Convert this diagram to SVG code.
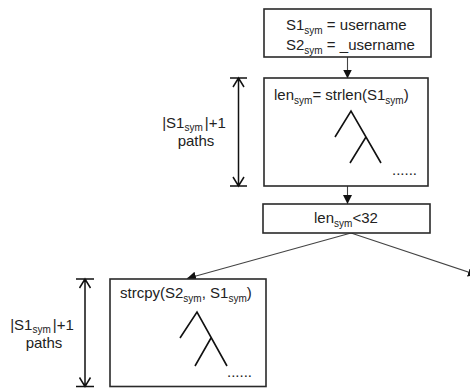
<svg xmlns="http://www.w3.org/2000/svg" width="470" height="388" viewBox="0 0 470 388">
<style>
text{font-family:"Liberation Sans",Arial,sans-serif;font-size:15px;fill:#222}
.sub{font-size:10px}
.box{fill:#fff;stroke:#2a2a2a;stroke-width:1.6}
.tree{fill:none;stroke:#111;stroke-width:1.6}
.conn{fill:none;stroke:#444;stroke-width:1.1}
.dim{fill:none;stroke:#111;stroke-width:1.5}
</style>
<defs>
<marker id="ah" viewBox="0 0 10 10" refX="10" refY="5" markerWidth="9" markerHeight="9" markerUnits="userSpaceOnUse" orient="auto">
<path d="M0,0 L10,5 L0,10 z" fill="#111"/>
</marker>
</defs>
<rect width="470" height="388" fill="#fff"/>
<g id="connectors">
<line class="conn" x1="347.5" y1="57" x2="347.5" y2="78.5" marker-end="url(#ah)"/>
<line class="conn" x1="347.5" y1="186" x2="347.5" y2="204" marker-end="url(#ah)"/>
<line class="conn" x1="351" y1="233" x2="187" y2="278.5" marker-end="url(#ah)"/>
<line class="conn" x1="351" y1="233" x2="477" y2="275" marker-end="url(#ah)"/>
</g>
<g id="init">
<rect class="box" x="264" y="9" width="167" height="48"/>
<text x="286" y="30">S1<tspan class="sub" dy="4">sym</tspan><tspan dy="-4"> = username</tspan></text>
<text x="286" y="50">S2<tspan class="sub" dy="4">sym</tspan><tspan dy="-4"> = _username</tspan></text>
</g>
<g id="strlen">
<rect class="box" x="264" y="78" width="164" height="108"/>
<text x="274" y="100">len<tspan class="sub" dy="4">sym</tspan><tspan dy="-4">= strlen(S1</tspan><tspan class="sub" dy="4">sym</tspan><tspan dy="-4">)</tspan></text>
<path class="tree" d="M335,137 L351,111 L381,163 M366,137 L350,163"/>
<text x="392" y="175">......</text>
</g>
<g id="cond">
<rect class="box" x="263" y="204" width="167" height="29"/>
<text x="314" y="223">len<tspan class="sub" dy="4">sym</tspan><tspan dy="-4">&lt;32</tspan></text>
</g>
<g id="strcpy">
<rect class="box" x="110" y="279" width="156" height="107.5"/>
<text x="120" y="298">strcpy(S2<tspan class="sub" dy="4">sym</tspan><tspan dy="-4">, S1</tspan><tspan class="sub" dy="4">sym</tspan><tspan dy="-4">)</tspan></text>
<path class="tree" d="M180,338 L197,312 L227,366 M211,338 L195,366"/>
<text x="227" y="377">......</text>
</g>
<g id="paths-upper">
<path class="dim" d="M230,78 H247 M238.5,78 V186 M230,186 H247 M233,87 L238.5,78 L244,87 M233,177 L238.5,186 L244,177"/>
<text x="194" y="128" text-anchor="middle">|S1<tspan class="sub" dy="3">sym</tspan><tspan dy="-3" dx="2">|+1</tspan></text>
<text x="196" y="146" text-anchor="middle">paths</text>
</g>
<g id="paths-lower">
<path class="dim" d="M76,279 H94 M85,279 V386.5 M76,386.5 H94 M79.5,288 L85,279 L90.5,288 M79.5,377.5 L85,386.5 L90.5,377.5"/>
<text x="42" y="330" text-anchor="middle">|S1<tspan class="sub" dy="3">sym</tspan><tspan dy="-3" dx="2">|+1</tspan></text>
<text x="44" y="348" text-anchor="middle">paths</text>
</g>
</svg>
